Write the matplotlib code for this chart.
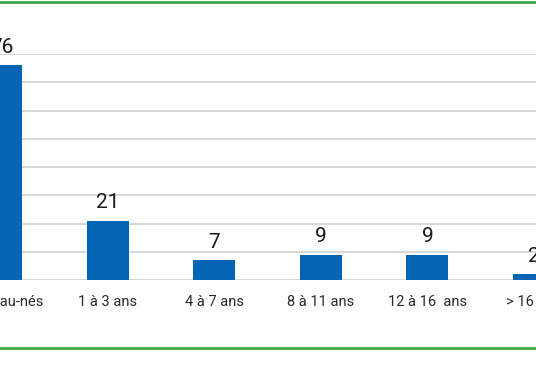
import matplotlib
matplotlib.use("Agg")
import matplotlib.pyplot as plt
from matplotlib.lines import Line2D

# categories and values
categories = ["Nouveau-nés", "1 à 3 ans", "4 à 7 ans", "8 à 11 ans",
              "12 à 16  ans", "> 16 ans"]
values = [76, 21, 7, 9, 9, 2]
y_ticks = [0, 10, 20, 30, 40, 50, 60, 70, 80]

BLUE = "#0565b5"
GREEN = "#45a845"
GRID = "#d4d4d4"

plt.rcParams["font.family"] = ["Roboto", "DejaVu Sans"]

W, H = 536, 386
fig = plt.figure(figsize=(W / 100, H / 100), dpi=100)
fig.patch.set_facecolor("white")

# axes span the whole width; the chart is cropped on both sides
base_px, top_px = 280, 54
ax = fig.add_axes([0, (H - base_px) / H, 1, (base_px - top_px) / H])
step = 106.5
ax.set_xlim(-1.5 / step, (W - 1.5) / step)
ax.set_ylim(0, 80)

x = range(len(categories))
ax.bar(x, values, width=42 / step, color=BLUE, zorder=3)

for yv in y_ticks:
    ax.axhline(yv, color=GRID, lw=1.3, zorder=1)

for xi, v in zip(x, values):
    ax.annotate(str(v), (xi, v), xytext=(0, 6), textcoords="offset points",
                ha="center", va="bottom", fontsize=15, color="#1a1a1a",
                annotation_clip=False)

ax.set_xticks(list(x))
ax.set_xticklabels(categories, fontsize=10.5, color="#2a2a2a")
ax.tick_params(axis="x", length=0, pad=11)
ax.set_yticks([])
for s in ax.spines.values():
    s.set_visible(False)

# green frame lines top and bottom
for ypx in (1.5, 347.5):
    yf = (H - ypx) / H
    fig.add_artist(Line2D([0, 1], [yf, yf], color=GREEN, lw=2,
                          transform=fig.transFigure))

fig.savefig("out.png", dpi=100)
